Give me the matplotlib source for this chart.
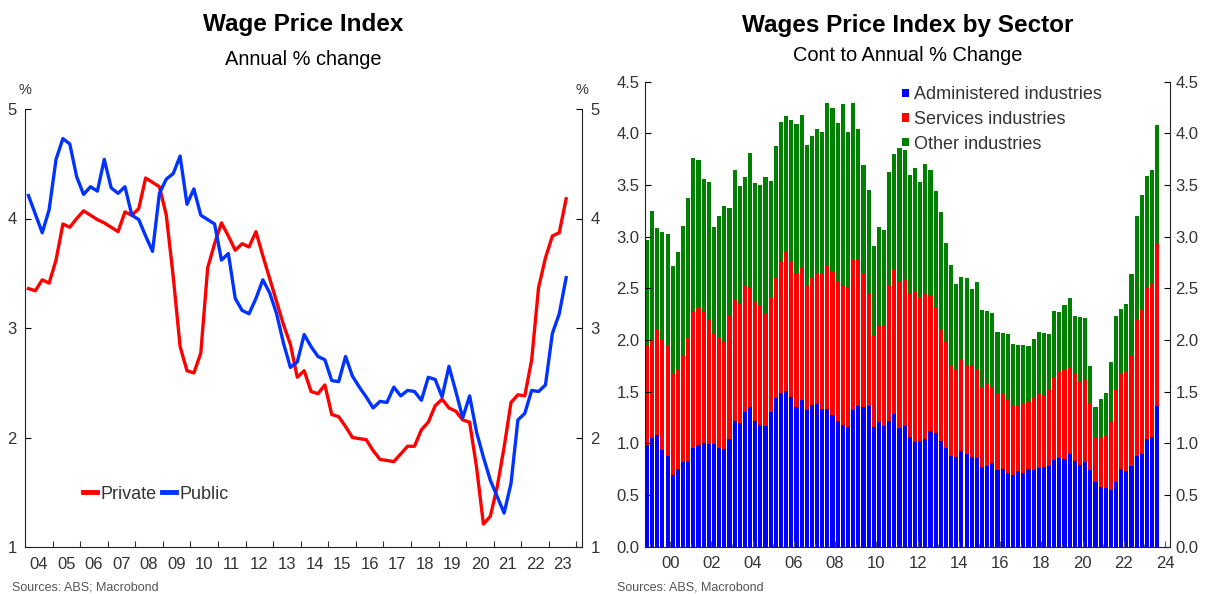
import numpy as np
import pandas as pd
import matplotlib
matplotlib.use('Agg')
import matplotlib.pyplot as plt
from matplotlib.lines import Line2D

plt.rcParams['font.family'] = ['Liberation Sans', 'DejaVu Sans']

# ---- Left chart: WPI annual % change, quarterly from 2004Q1 ----
private = [3.36, 3.34, 3.44, 3.41, 3.62, 3.95, 3.92, 4.00, 4.07, 4.03,
           3.99, 3.96, 3.92, 3.88, 4.06, 4.03, 4.09, 4.37, 4.33, 4.29,
           4.03, 3.47, 2.83, 2.61, 2.59, 2.77, 3.55, 3.77, 3.96, 3.84,
           3.71, 3.77, 3.74, 3.88, 3.66, 3.45, 3.24, 3.03, 2.85, 2.55,
           2.61, 2.42, 2.40, 2.48, 2.21, 2.19, 2.10, 2.00, 1.99, 1.98,
           1.88, 1.80, 1.79, 1.78, 1.85, 1.92, 1.92, 2.07, 2.14, 2.29,
           2.35, 2.27, 2.24, 2.16, 2.14, 1.73, 1.21, 1.28, 1.55, 1.91,
           2.32, 2.39, 2.38, 2.71, 3.37, 3.64, 3.84, 3.87, 4.18]
public = [4.21, 4.04, 3.87, 4.08, 4.54, 4.73, 4.68, 4.38, 4.22, 4.29,
          4.25, 4.54, 4.28, 4.23, 4.29, 4.03, 3.99, 3.84, 3.70, 4.23,
          4.36, 4.41, 4.57, 4.13, 4.27, 4.03, 3.99, 3.95, 3.62, 3.68,
          3.27, 3.16, 3.13, 3.27, 3.44, 3.32, 3.13, 2.86, 2.64, 2.69,
          2.94, 2.83, 2.74, 2.71, 2.52, 2.51, 2.74, 2.56, 2.46, 2.37,
          2.27, 2.33, 2.32, 2.46, 2.38, 2.43, 2.42, 2.34, 2.55, 2.53,
          2.37, 2.65, 2.42, 2.18, 2.38, 2.05, 1.82, 1.61, 1.46, 1.31,
          1.58, 2.16, 2.22, 2.43, 2.42, 2.48, 2.95, 3.13, 3.46]
left_start = '2004Q1'

# ---- Right chart: contributions by sector, quarterly from 1998Q4 ----
# levels (top of each colour)
admin = [0.98, 1.05, 1.08, 0.94, 0.88, 0.69, 0.75, 0.82, 0.83, 0.96,
         0.98, 1.00, 0.99, 0.99, 0.96, 0.95, 1.04, 1.22, 1.20, 1.30,
         1.35, 1.22, 1.18, 1.17, 1.30, 1.44, 1.49, 1.51, 1.45, 1.35,
         1.42, 1.32, 1.37, 1.38, 1.33, 1.33, 1.27, 1.22, 1.18, 1.16,
         1.32, 1.36, 1.35, 1.36, 1.16, 1.21, 1.17, 1.22, 1.28, 1.15,
         1.17, 1.06, 1.01, 1.02, 1.04, 1.12, 1.10, 1.02, 0.96, 0.88,
         0.87, 0.93, 0.90, 0.87, 0.86, 0.77, 0.78, 0.81, 0.74, 0.75,
         0.71, 0.69, 0.73, 0.71, 0.75, 0.74, 0.76, 0.77, 0.78, 0.84,
         0.86, 0.85, 0.90, 0.83, 0.79, 0.82, 0.74, 0.63, 0.58, 0.57,
         0.55, 0.63, 0.75, 0.73, 0.78, 0.88, 0.90, 1.04, 1.06, 1.36]
admin_services = [1.94, 2.01, 2.10, 2.01, 1.94, 1.67, 1.72, 1.85, 2.02, 2.28,
                  2.31, 2.28, 2.19, 2.06, 2.03, 1.99, 2.23, 2.39, 2.35, 2.52,
                  2.51, 2.38, 2.34, 2.26, 2.42, 2.61, 2.76, 2.85, 2.76, 2.65,
                  2.70, 2.53, 2.60, 2.65, 2.64, 2.73, 2.66, 2.57, 2.53, 2.51,
                  2.77, 2.77, 2.64, 2.45, 2.05, 2.15, 2.15, 2.52, 2.68, 2.57,
                  2.59, 2.45, 2.47, 2.41, 2.45, 2.43, 2.31, 2.11, 1.99, 1.75,
                  1.72, 1.81, 1.76, 1.76, 1.72, 1.55, 1.58, 1.54, 1.49, 1.48,
                  1.43, 1.37, 1.37, 1.39, 1.40, 1.44, 1.48, 1.47, 1.52, 1.63,
                  1.70, 1.72, 1.74, 1.67, 1.60, 1.61, 1.38, 1.05, 1.06, 1.07,
                  1.22, 1.52, 1.68, 1.70, 1.85, 2.19, 2.30, 2.50, 2.55, 2.93]
total = [2.97, 3.25, 3.08, 3.05, 3.03, 2.72, 2.85, 3.10, 3.37, 3.76,
         3.74, 3.56, 3.53, 3.09, 3.20, 3.30, 3.28, 3.65, 3.49, 3.58,
         3.81, 3.52, 3.50, 3.58, 3.54, 3.88, 4.11, 4.17, 4.13, 4.09,
         4.18, 3.89, 3.97, 4.04, 4.01, 4.29, 4.25, 4.10, 4.28, 4.01,
         4.29, 4.04, 3.69, 3.45, 2.91, 3.09, 3.06, 3.63, 3.80, 3.86,
         3.84, 3.60, 3.66, 3.53, 3.70, 3.65, 3.44, 3.24, 2.94, 2.73,
         2.54, 2.61, 2.60, 2.49, 2.56, 2.29, 2.28, 2.26, 2.08, 2.07,
         2.06, 1.96, 1.95, 1.95, 1.94, 2.01, 2.08, 2.07, 2.06, 2.28,
         2.27, 2.34, 2.41, 2.23, 2.22, 2.21, 1.75, 1.35, 1.43, 1.49,
         1.79, 2.23, 2.30, 2.35, 2.64, 3.20, 3.40, 3.59, 3.65, 4.08]
right_start = '1998Q4'

series_names = ['Administered industries', 'Services industries', 'Other industries']
bar_colors = ['#0000ff', '#ff0000', '#008000']


def quarter_x(start, n):
    # quarters drawn at their mid-point on a fractional-year axis
    q = pd.period_range(start, periods=n, freq='Q')
    return np.asarray(q.year + (q.quarter - 0.5) / 4.0, dtype=float)


admin = np.array(admin)
services = np.array(admin_services) - admin
other = np.array(total) - np.array(admin_services)

text_col = '#333333'

fig = plt.figure(figsize=(12.1, 5.94), dpi=100)

# ================= Left: Wage Price Index =================
ax1 = fig.add_axes([25 / 1210, 47 / 594, 557 / 1210, 438 / 594])
xl = quarter_x(left_start, len(private))
ax1.plot(xl, private, color='#ff0000', linewidth=2.4, label='Private')
ax1.plot(xl, public, color='#0033ff', linewidth=2.4, label='Public')

ax1.set_xlim(2004.0, 2024.2)
ax1.set_ylim(1, 5)
ax1.set_yticks([1, 2, 3, 4, 5])
ax1.set_xticks(np.arange(2005, 2025))
ax1.set_xticklabels([])
ax1.set_xticks(np.arange(2004, 2024) + 0.5, minor=True)
ax1.set_xticklabels([f'{y % 100:02d}' for y in range(2004, 2024)], minor=True)
ax1.tick_params(axis='x', which='major', direction='in', length=4, color='#333333')
ax1.tick_params(axis='x', which='minor', length=0, pad=7, labelsize=12, labelcolor=text_col)
ax1.tick_params(axis='y', direction='in', length=4, left=True, right=True,
                labelleft=True, labelright=True, labelsize=12, pad=6, labelcolor=text_col)
ax1.spines['top'].set_visible(False)
for s in ['left', 'right', 'bottom']:
    ax1.spines[s].set_color('#222222')

ax1.text(0.0, 1.043, '%', transform=ax1.transAxes, ha='center', va='center',
         fontsize=10.5, color=text_col)
ax1.text(1.0, 1.043, '%', transform=ax1.transAxes, ha='center', va='center',
         fontsize=10.5, color=text_col)

handles = [Line2D([], [], color='#ff0000', linewidth=3.5),
           Line2D([], [], color='#0033ff', linewidth=3.5)]
ax1.legend(handles, ['Private', 'Public'], loc='center left', bbox_to_anchor=(0.104, 0.121),
           ncol=2, frameon=False, fontsize=13, handlelength=0.8, handletextpad=0.2,
           columnspacing=0.25, labelcolor=text_col, borderaxespad=0, borderpad=0)

fig.text(303.5 / 1210, 1 - 31 / 594, 'Wage Price Index', ha='center', va='baseline',
         fontsize=17.5, fontweight='bold', color='black')
fig.text(303.5 / 1210, 1 - 65 / 594, 'Annual % change', ha='center', va='baseline',
         fontsize=14.4, color='black')
fig.text(12 / 1210, 1 - 588 / 594, 'Sources: ABS; Macrobond', ha='left', va='center',
         fontsize=9, color='#555555')

# ================= Right: WPI by sector =================
ax2 = fig.add_axes([645 / 1210, 47.3 / 594, 525 / 1210, 465 / 594])
xr = quarter_x(right_start, len(admin))
bw = 0.2
ax2.bar(xr, admin, width=bw, color=bar_colors[0], linewidth=0, label=series_names[0])
ax2.bar(xr, services, width=bw, bottom=admin, color=bar_colors[1], linewidth=0,
        label=series_names[1])
ax2.bar(xr, other, width=bw, bottom=admin + services, color=bar_colors[2], linewidth=0,
        label=series_names[2])

ax2.set_xlim(1998.78, 2024.24)
ax2.set_ylim(0, 4.5)
ax2.set_yticks(np.arange(0, 4.51, 0.5))
ax2.set_yticklabels([f'{v:.1f}' for v in np.arange(0, 4.51, 0.5)])
ax2.set_xticks(np.arange(2000, 2025, 2))
ax2.set_xticklabels([f'{y % 100:02d}' for y in range(2000, 2025, 2)])
ax2.set_xticks(np.arange(1999, 2024, 2), minor=True)
ax2.tick_params(axis='x', which='major', direction='in', length=4, pad=7,
                labelsize=12, labelcolor=text_col, color='#555555')
ax2.tick_params(axis='x', which='minor', direction='in', length=2, color='#555555')
ax2.tick_params(axis='y', direction='in', length=4, left=True, right=True,
                labelleft=True, labelright=True, labelsize=12, pad=4, labelcolor=text_col)
ax2.spines['top'].set_visible(False)
for s in ['left', 'right', 'bottom']:
    ax2.spines[s].set_color('#222222')

ax2.legend(loc='upper left', bbox_to_anchor=(0.49, 0.99), frameon=False, fontsize=13,
           handlelength=0.35, handleheight=0.35, handletextpad=0.3, labelspacing=0.42,
           labelcolor=text_col, borderaxespad=0, borderpad=0)

fig.text(907.5 / 1210, 1 - 32 / 594, 'Wages Price Index by Sector', ha='center',
         va='baseline', fontsize=17.5, fontweight='bold', color='black')
fig.text(907.5 / 1210, 1 - 61 / 594, 'Cont to Annual % Change', ha='center', va='baseline',
         fontsize=14.4, color='black')
fig.text(617 / 1210, 1 - 588 / 594, 'Sources: ABS, Macrobond', ha='left', va='center',
         fontsize=9, color='#555555')

fig.savefig('out.png', dpi=100)
